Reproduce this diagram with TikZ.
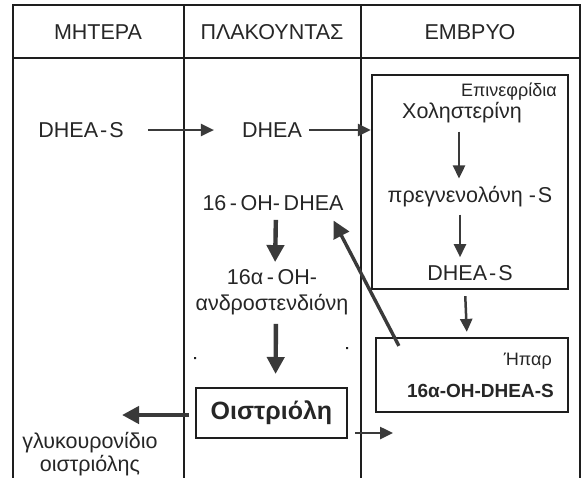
\documentclass[tikz,border=0pt]{standalone}
\usepackage{fontspec}
\setmainfont{Liberation Sans}
\usepackage{xcolor}
\usetikzlibrary{arrows.meta,positioning}
\definecolor{arrgray}{HTML}{3A3A3A}
\definecolor{linegray}{HTML}{1E1E1E}
\definecolor{txtgray}{HTML}{262626}
\tikzset{
	frame/.style={draw=linegray, line width=2.2pt, line cap=rect},
	lbl/.style={inner sep=0pt, text=txtgray, font=\fontsize{21.5}{26}\selectfont},
	small lbl/.style={inner sep=0pt, text=txtgray, font=\fontsize{18}{20}\selectfont},
	bold lbl/.style={inner sep=0pt, text=txtgray, font=\fontsize{19}{22}\selectfont\bfseries},
	organ/.style={draw=linegray, line width=2.2pt, inner sep=0pt},
	thin arr/.style={draw=arrgray, line width=2.5pt, -{Triangle[length=13pt,width=12pt]}},
	thick arr/.style={draw=arrgray, line width=4.4pt, -{Triangle[length=17pt,width=17pt]}}
}
\begin{document}
\begin{tikzpicture}[x=1pt,y=-1pt]
	\useasboundingbox (0,0) rectangle (586,477);
	\foreach \x in {13,184,361,580}
		\draw[frame] (\x,5) -- (\x,477);
	\draw[frame] (13,5) -- (580,5) (13,58) -- (580,58);
	\foreach \x/\t/\n in {98/ΜΗΤΕΡΑ/m,272/ΠΛΑΚΟΥΝΤΑΣ/p,470/ΕΜΒΡΥΟ/e}
		\node[lbl] (\n-head) at (\x,32) {\t};
	% mother / placenta
	\node[lbl] (m-dheas) at (81,130) {DHEA\kern2pt-\kern2pt S};
	\node[lbl] (p-dhea) at (272,130) {DHEA};
	\node[lbl] (p-ohdhea) at (273,203) {16\,-\,OH-\,DHEA};
	\node[lbl, align=center] (p-andro) at (272,292) {16α\,-\,OH-\\ανδροστενδιόνη};
	\node[organ, line width=2pt, minimum width=151pt, minimum height=50pt,
		font=\fontsize{25}{28}\selectfont\bfseries, text=txtgray] (p-oestr) at (271.5,413) {Οιστριόλη};
	\node[lbl, align=center, font=\fontsize{21.5}{23}\selectfont] (m-gluc) at (90,454) {γλυκουρονίδιο\\οιστριόλης};
	\coordinate (m-tip) at (122,415);
	\coordinate (e-tip) at (393,433);
	% fetus
	\node[organ, minimum width=196pt, minimum height=214pt] (e-adr) at (470,182) {};
	\node[small lbl, anchor=east] (e-adr-name) at (557,92) {Επινεφρίδια};
	\node[lbl] (e-chol) at (462,113) {Χοληστερίνη};
	\node[lbl] (e-preg) at (470,197) {πρεγνενολόνη -\kern2pt S};
	\node[lbl] (e-dheas) at (470,273) {DHEA\kern2pt-\kern2pt S};
	\node[organ, minimum width=192pt, minimum height=74pt] (e-liver) at (472,375) {};
	\node[small lbl, anchor=east] (e-hpar) at (552,361) {Ήπαρ};
	\node[bold lbl, anchor=east] (e-ohdheas) at (554,391) {16α-OH-DHEA-S};
	\fill[linegray] (194,357) rectangle (196,359) (346,347) rectangle (348,349);
	% arrows
	\draw[thin arr, shorten <=24pt, shorten >=28pt] (m-dheas.east) -- (p-dhea.west);
	\draw[thin arr, shorten <=7pt] (p-dhea.east) -- (p-dhea.east -| e-adr.west);
	\draw[thin arr, shorten <=8pt, shorten >=8pt] ([xshift=-3pt]e-chol.south) -- ([xshift=-3pt]e-chol.south |- e-preg.north);
	\draw[thin arr, shorten <=7pt, shorten >=8pt] ([xshift=-10pt]e-preg.south) -- ([xshift=-10pt]e-dheas.north);
	\draw[thin arr, shorten <=6pt, shorten >=5pt] ([xshift=-5pt]e-adr.south) -- ([xshift=-5pt]e-liver.north);
	\draw[thick arr, shorten <=9pt, shorten >=7pt] ([xshift=3pt]p-ohdhea.south) -- ([xshift=3pt]p-andro.north);
	\draw[thick arr, shorten <=9pt, shorten >=13pt] ([xshift=4pt]p-andro.south) -- ([xshift=4pt]p-oestr.north);
	\draw[thick arr, line width=3.4pt, shorten >=2pt] ([shift={(24pt,-9pt)}]e-liver.north west) -- ([xshift=-11pt,yshift=-8pt]p-ohdhea.south east);
	\draw[thick arr, shorten <=6pt] ([yshift=-2pt]p-oestr.west) -- (m-tip);
	\draw[thin arr, shorten <=7pt] (p-oestr.east |- e-tip) -- (e-tip);
\end{tikzpicture}
\end{document}
